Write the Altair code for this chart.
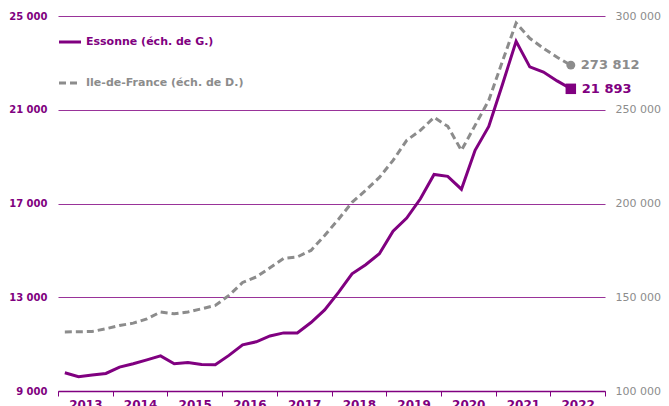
import altair as alt
import pandas as pd

years = ["2013", "2014", "2015", "2016", "2017", "2018", "2019", "2020", "2021", "2022"]
# quarterly index 0 = 2013 T1 ... 37 = 2022 T2
essonne = [9780, 9610, 9680, 9750, 10020, 10160, 10330, 10500,
           10160, 10220, 10130, 10120, 10520, 10970, 11100, 11350,
           11480, 11480, 11920, 12460, 13200, 14000, 14390, 14860,
           15820, 16380, 17200, 18240, 18160, 17610, 19270, 20290,
           22080, 23920, 22830, 22610, 22230, 21893]
idf = [131500, 131600, 131750, 133190, 134950, 136180, 138420, 142150,
       141190, 142150, 143860, 145620, 150960, 157900, 160830, 165740,
       170700, 171500, 174970, 182970, 191510, 200580, 206990, 213920,
       223000, 233670, 239000, 245940, 241140, 228330, 241670, 255010,
       275820, 296260, 288090, 282760, 277950, 273812]
left_ticks = [9000, 13000, 17000, 21000, 25000]
right_ticks = [100000, 150000, 200000, 250000, 300000]
legend_labels = ["Essonne (éch. de G.)", "Ile-de-France (éch. de D.)"]

PURPLE = "#800080"
GRID = "#993399"
GREY = "#8c8c8c"
FONT = "DejaVu Sans"

W, H = 547, 375
df = pd.DataFrame({"q": [i + 0.5 for i in range(len(essonne))],
                   "ess": essonne, "idf": idf})
last = df.tail(1).copy()
last["ess_lbl"] = [f"{v:,}".replace(",", " ") for v in last["ess"]]
last["idf_lbl"] = [f"{v:,}".replace(",", " ") for v in last["idf"]]

xscale = alt.Scale(domain=[0, 40], nice=False, zero=False)
xaxis = alt.Axis(values=list(range(0, 41, 4)), title=None, grid=False,
                 domainColor=PURPLE, domainWidth=1.5, tickColor=PURPLE, tickSize=5,
                 labelExpr="datum.value < 40 ? '' + (2013 + datum.value / 4) : ''",
                 labelOffset=27.35, labelFlush=False, labelOverlap=False,
                 labelColor=PURPLE, labelFont=FONT, labelFontWeight="bold",
                 labelFontSize=12, labelPadding=3)
x = alt.X("q:Q", scale=xscale, axis=xaxis)

lscale = alt.Scale(domain=[9000, 25000], nice=False, zero=False)
laxis = alt.Axis(values=left_ticks, title=None, grid=True, gridColor=GRID,
                 gridWidth=1, domain=False, ticks=False, labelPadding=11,
                 labelColor=PURPLE, labelFont=FONT, labelFontWeight="bold",
                 labelFontSize=10,
                 labelExpr="replace(format(datum.value, ','), ',', ' ')")
rscale = alt.Scale(domain=[100000, 300000], nice=False, zero=False)
raxis = alt.Axis(values=right_ticks, title=None, grid=False, domain=False,
                 ticks=False, labelPadding=10, orient="right",
                 labelColor=GREY, labelFont=FONT, labelFontSize=11,
                 labelExpr="replace(format(datum.value, ','), ',', ' ')")

base = alt.Chart(df)
ess_line = base.mark_line(color=PURPLE, strokeWidth=3).encode(
    x=x, y=alt.Y("ess:Q", scale=lscale, axis=laxis))
ess_pt = alt.Chart(last).mark_square(color=PURPLE, size=110, opacity=1).encode(
    x=x, y=alt.Y("ess:Q", scale=lscale))
ess_txt = alt.Chart(last).mark_text(color=PURPLE, font=FONT, fontWeight="bold",
                                    fontSize=13, align="left", dx=11).encode(
    x=x, y=alt.Y("ess:Q", scale=lscale), text="ess_lbl:N")
left = alt.layer(ess_line, ess_pt, ess_txt)

idf_line = base.mark_line(color=GREY, strokeWidth=3, strokeDash=[7, 4]).encode(
    x=x, y=alt.Y("idf:Q", scale=rscale, axis=raxis))
idf_pt = alt.Chart(last).mark_circle(color=GREY, size=80, opacity=1).encode(
    x=x, y=alt.Y("idf:Q", scale=rscale))
idf_txt = alt.Chart(last).mark_text(color=GREY, font=FONT, fontWeight="bold",
                                    fontSize=13, align="left", dx=10).encode(
    x=x, y=alt.Y("idf:Q", scale=rscale), text="idf_lbl:N")
right = alt.layer(idf_line, idf_pt, idf_txt)

leg_df = pd.DataFrame({"label": legend_labels})
leg1_line = alt.Chart(leg_df.head(1)).mark_rule(color=PURPLE, strokeWidth=3).encode(
    x=alt.value(1), x2=alt.value(23), y=alt.value(26))
leg1_txt = alt.Chart(leg_df.head(1)).mark_text(color=PURPLE, font=FONT, fontWeight="bold",
                                               fontSize=11, align="left", baseline="middle").encode(
    x=alt.value(28), y=alt.value(26), text="label:N")
leg2_line = alt.Chart(leg_df.tail(1)).mark_rule(color=GREY, strokeWidth=3, strokeDash=[7, 4]).encode(
    x=alt.value(1), x2=alt.value(23), y=alt.value(67))
leg2_txt = alt.Chart(leg_df.tail(1)).mark_text(color=GREY, font=FONT, fontWeight="bold",
                                               fontSize=11, align="left", baseline="middle").encode(
    x=alt.value(28), y=alt.value(67), text="label:N")
legend = alt.layer(leg1_line, leg1_txt, leg2_line, leg2_txt)

chart = alt.layer(left, right, legend).resolve_scale(y="independent").properties(
    width=W, height=H,
    autosize=alt.AutoSizeParams(type="none"),
    padding={"left": 50, "top": 8, "right": 56, "bottom": 15},
).configure_view(stroke=None)

chart.save("out.html", embed_options={"renderer": "svg", "actions": False})
